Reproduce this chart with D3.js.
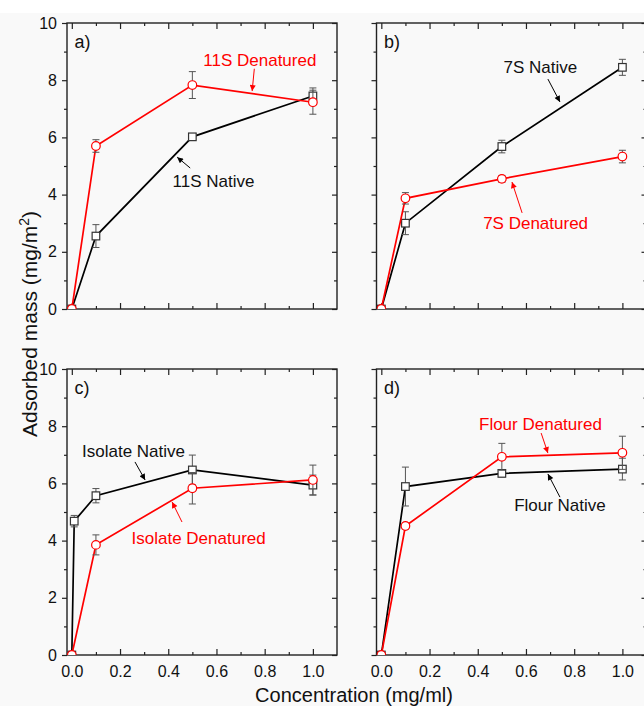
<!DOCTYPE html>
<html><head><meta charset="utf-8">
<script src="https://cdn.jsdelivr.net/npm/d3@7"></script>
<style>
body{margin:0;background:#fff;}
svg{display:block;font-family:"Liberation Sans",Arial,sans-serif;}
</style></head>
<body>
<svg id="chart" width="644" height="706"></svg>
<script>
// ---------- data ----------
const conc = [0, 0.1, 0.5, 1.0];
const concIsoNative = [0, 0.01, 0.1, 0.5, 1.0];

const native11S = [0, 2.55, 6.02, 7.45];
const native11SErr = [0, 0.40, 0.10, 0.28];
const denat11S = [0, 5.70, 7.83, 7.23];
const denat11SErr = [0, 0.22, 0.47, 0.42];

const native7S = [0, 3.00, 5.68, 8.45];
const native7SErr = [0, 0.40, 0.22, 0.28];
const denat7S = [0, 3.87, 4.55, 5.33];
const denat7SErr = [0, 0.20, 0.12, 0.22];

const nativeIso = [0, 4.68, 5.57, 6.47, 5.94];
const nativeIsoErr = [0, 0.20, 0.25, 0.52, 0.35];
const denatIso = [0, 3.85, 5.83, 6.12];
const denatIsoErr = [0, 0.35, 0.55, 0.52];

const nativeFlour = [0, 5.89, 6.35, 6.50];
const nativeFlourErr = [0, 0.68, 0.12, 0.38];
const denatFlour = [0, 4.51, 6.93, 7.07];
const denatFlourErr = [0, 0.10, 0.47, 0.58];

const panelLabels = ["a)", "b)", "c)", "d)"];
const xTickMajor = [0, 0.2, 0.4, 0.6, 0.8, 1.0];
const xTickMinor = [0.1, 0.3, 0.5, 0.7, 0.9];
const yTickMajor = [0, 2, 4, 6, 8, 10];
const yTickMinor = [1, 3, 5, 7, 9];
const xTitle = "Concentration (mg/ml)";

// annotations: text anchor (data units) and arrow from/to (data units)
const annA = [
  {t:"11S Denatured", c:"red", x:0.78, y:8.50, ax1:[0.757,8.40], ax2:[0.748,7.62]},
  {t:"11S Native", c:"black", x:0.588, y:4.28, ax1:[0.491,4.93], ax2:[0.437,5.31]}
];
const annB = [
  {t:"7S Native", c:"black", x:0.66, y:8.25, ax1:[0.691,8.04], ax2:[0.741,7.24]},
  {t:"7S Denatured", c:"red", x:0.64, y:2.80, ax1:[0.584,3.36], ax2:[0.542,4.44]}
];
const annC = [
  {t:"Isolate Native", c:"black", x:0.256, y:6.94, ax1:[0.262,6.75], ax2:[0.304,6.12]},
  {t:"Isolate Denatured", c:"red", x:0.526, y:3.88, ax1:[0.457,4.65], ax2:[0.416,5.35]}
];
const annD = [
  {t:"Flour Denatured", c:"red", x:0.66, y:7.87, ax1:[0.663,7.76], ax2:[0.691,7.06]},
  {t:"Flour Native", c:"black", x:0.741, y:5.05, ax1:[0.741,5.52], ax2:[0.691,6.33]}
];

function mk(xs, ys, es){ return xs.map((x,i)=>({x, y:ys[i], e:es[i]})); }

const panels = [
  {left:67, top:23, xl:false, yl:true, lab:panelLabels[0],
   black:mk(conc,native11S,native11SErr), red:mk(conc,denat11S,denat11SErr), ann:annA},
  {left:376.5, top:23, xl:false, yl:false, lab:panelLabels[1],
   black:mk(conc,native7S,native7SErr), red:mk(conc,denat7S,denat7SErr), ann:annB},
  {left:67, top:369, xl:true, yl:true, lab:panelLabels[2],
   black:mk(concIsoNative,nativeIso,nativeIsoErr), red:mk(conc,denatIso,denatIsoErr), ann:annC},
  {left:376.5, top:369, xl:true, yl:false, lab:panelLabels[3],
   black:mk(conc,nativeFlour,nativeFlourErr), red:mk(conc,denatFlour,denatFlourErr), ann:annD}
];

// ---------- drawing ----------
const W = 270, H = 286;
const svg = d3.select("#chart");
svg.append("rect").attr("x",0).attr("y",13).attr("width",644).attr("height",693).attr("fill","#f9f9f9");

const defs = svg.append("defs");
["black","red"].forEach(c=>{
  defs.append("marker").attr("id","arr-"+c)
    .attr("viewBox","0 0 10 10").attr("refX",10).attr("refY",5)
    .attr("markerWidth",8).attr("markerHeight",6).attr("markerUnits","userSpaceOnUse")
    .attr("orient","auto")
    .append("path").attr("d","M0,0 L10,5 L0,10 Z").attr("fill",c);
});

panels.forEach((p,pi)=>{
  const x = d3.scaleLinear().domain([-0.02,1.1]).range([0,W]);
  const y = d3.scaleLinear().domain([0,10]).range([H,0]);
  const g = svg.append("g").attr("transform",`translate(${p.left},${p.top})`);

  defs.append("clipPath").attr("id","clip"+pi)
    .append("rect").attr("x",0).attr("y",0).attr("width",W).attr("height",H);

  // axes
  const styleAxis = sel => {
    sel.select(".domain").remove();
    sel.selectAll("line").attr("stroke","#222").attr("stroke-width",1.2);
    sel.selectAll("text").attr("fill","#111").attr("font-size",16)
       .attr("font-family","'Liberation Sans',Arial,sans-serif");
  };
  g.append("g").call(d3.axisLeft(y).tickValues(yTickMajor).tickSize(5).tickPadding(5)
      .tickFormat(p.yl ? d3.format("d") : ()=>"")).call(styleAxis);
  g.append("g").call(d3.axisLeft(y).tickValues(yTickMinor).tickSize(3).tickFormat(()=>"")).call(styleAxis);
  g.append("g").attr("transform",`translate(${W},0)`)
    .call(d3.axisRight(y).tickValues(yTickMajor).tickSize(-5).tickFormat(()=>"")).call(styleAxis);
  g.append("g").attr("transform",`translate(${W},0)`)
    .call(d3.axisRight(y).tickValues(yTickMinor).tickSize(-3).tickFormat(()=>"")).call(styleAxis);
  g.append("g").attr("transform",`translate(0,${H})`)
    .call(d3.axisBottom(x).tickValues(xTickMajor).tickSize(-6).tickPadding(11)
      .tickFormat(p.xl ? d3.format(".1f") : ()=>"")).call(styleAxis);
  g.append("g").attr("transform",`translate(0,${H})`)
    .call(d3.axisBottom(x).tickValues(xTickMinor).tickSize(-3).tickFormat(()=>"")).call(styleAxis);
  g.append("g")
    .call(d3.axisTop(x).tickValues(xTickMajor).tickSize(-6).tickFormat(()=>"")).call(styleAxis);
  g.append("g")
    .call(d3.axisTop(x).tickValues(xTickMinor).tickSize(-3).tickFormat(()=>"")).call(styleAxis);

  g.append("rect").attr("width",W).attr("height",H).attr("fill","none")
    .attr("stroke","#222").attr("stroke-width",1.4);

  // panel label
  g.append("text").attr("x",7.5).attr("y",25).attr("font-size",18).attr("fill","#111").text(p.lab);

  const plot = g.append("g").attr("clip-path",`url(#clip${pi})`);
  const line = d3.line().x(d=>x(d.x)).y(d=>y(d.y));

  [["black","#000","#333"],["red","#f00","#f00"]].forEach(([key,col,mcol])=>{
    const data = p[key];
    plot.append("path").datum(data).attr("d",line).attr("fill","none")
      .attr("stroke",col).attr("stroke-width",1.7);
    const eb = plot.append("g").attr("stroke","#555").attr("stroke-width",1);
    data.filter(d=>d.e>0).forEach(d=>{
      eb.append("line").attr("x1",x(d.x)).attr("x2",x(d.x)).attr("y1",y(d.y-d.e)).attr("y2",y(d.y+d.e));
      eb.append("line").attr("x1",x(d.x)-3.5).attr("x2",x(d.x)+3.5).attr("y1",y(d.y-d.e)).attr("y2",y(d.y-d.e));
      eb.append("line").attr("x1",x(d.x)-3.5).attr("x2",x(d.x)+3.5).attr("y1",y(d.y+d.e)).attr("y2",y(d.y+d.e));
    });
    if(key==="black"){
      plot.append("g").selectAll("rect").data(data).join("rect")
        .attr("x",d=>x(d.x)-3.8).attr("y",d=>y(d.y)-3.8).attr("width",7.6).attr("height",7.6)
        .attr("fill","#fff").attr("stroke",mcol).attr("stroke-width",1.2);
    } else {
      plot.append("g").selectAll("circle").data(data).join("circle")
        .attr("cx",d=>x(d.x)).attr("cy",d=>y(d.y)).attr("r",4.3)
        .attr("fill","#fff").attr("stroke",mcol).attr("stroke-width",1.2);
    }
  });

  // annotations
  p.ann.forEach(a=>{
    const col = a.c==="red" ? "#f00" : "#111";
    g.append("text").attr("x",x(a.x)).attr("y",y(a.y)).attr("text-anchor","middle")
      .attr("font-size",17).attr("fill",col).text(a.t);
    g.append("line").attr("x1",x(a.ax1[0])).attr("y1",y(a.ax1[1]))
      .attr("x2",x(a.ax2[0])).attr("y2",y(a.ax2[1]))
      .attr("stroke",a.c==="red"?"#f00":"#000").attr("stroke-width",1)
      .attr("marker-end",`url(#arr-${a.c==="red"?"red":"black"})`);
  });
});

// axis titles
const yt = svg.append("text").attr("transform","translate(36.5,324) rotate(-90)")
  .attr("text-anchor","middle").attr("font-size",21).attr("fill","#111");
yt.append("tspan").text("Adsorbed mass (mg/m");
yt.append("tspan").attr("font-size",14).attr("dy",-8).text("2");
yt.append("tspan").attr("dy",8).text(")");

svg.append("text").attr("x",354).attr("y",702).attr("text-anchor","middle")
  .attr("font-size",20).attr("fill","#111").text(xTitle);
</script>
</body></html>
